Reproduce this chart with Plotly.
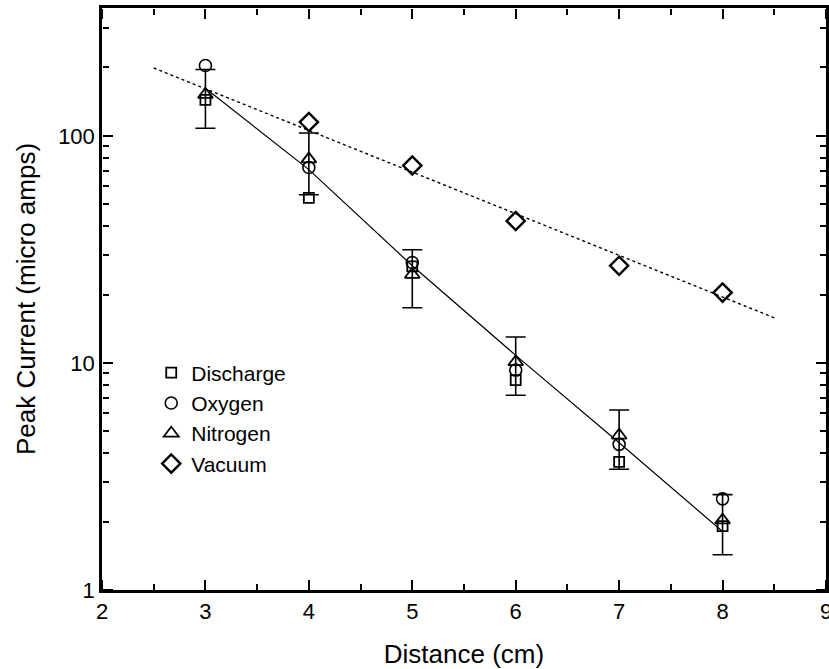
import plotly.graph_objects as go

# Data
distance = [3, 4, 5, 6, 7, 8]
discharge = [144, 53.3, 26.6, 8.4, 3.67, 1.91]
oxygen = [204, 72.5, 27.7, 9.3, 4.38, 2.52]
nitrogen = [152, 79, 24.5, 10.1, 4.8, 2.03]
nitrogen_err = [44, 24, 7, 2.9, 1.4, 0.6]
vac_distance = [4, 5, 6, 7, 8]
vacuum = [115, 74, 42.2, 26.8, 20.4]

# fitted lines
fit_gas_x = [3, 4, 5, 6, 7, 8]
fit_gas_y = [162, 71, 26.8, 10.8, 4.45, 1.81]
fit_vac_x = [2.5, 8.5]
fit_vac_y = [199, 15.8]

X_RANGE = [2, 9]
Y_RANGE_LOG = [0, 2.563]

FONT = "Arial"
black = "#000000"

fig = go.Figure()

fig.add_trace(go.Scatter(x=fit_vac_x, y=fit_vac_y, mode="lines",
                         line=dict(color=black, width=1.4, dash="dot"),
                         showlegend=False, hoverinfo="skip"))
fig.add_trace(go.Scatter(x=fit_gas_x, y=fit_gas_y, mode="lines",
                         line=dict(color=black, width=1.2),
                         showlegend=False, hoverinfo="skip"))
fig.add_trace(go.Scatter(x=distance, y=nitrogen, mode="markers",
                         marker=dict(size=1, color="rgba(0,0,0,0)"),
                         error_y=dict(type="data", array=nitrogen_err, visible=True,
                                      color=black, thickness=1.6, width=10),
                         showlegend=False, hoverinfo="skip"))

fig.add_trace(go.Scatter(x=distance, y=discharge, mode="markers", name="Discharge",
                         marker=dict(symbol="square-open", size=10, color=black,
                                     line=dict(width=1.8))))
fig.add_trace(go.Scatter(x=distance, y=oxygen, mode="markers", name="Oxygen",
                         marker=dict(symbol="circle-open", size=12, color=black,
                                     line=dict(width=1.6))))
fig.add_trace(go.Scatter(x=distance, y=nitrogen, mode="markers", name="Nitrogen",
                         marker=dict(symbol="triangle-up-open", size=13, color=black,
                                     line=dict(width=1.8))))
fig.add_trace(go.Scatter(x=vac_distance, y=vacuum, mode="markers", name="Vacuum",
                         marker=dict(symbol="diamond-open", size=14, color=black,
                                     line=dict(width=2.4))))

# invisible anchor traces for the tick-only axes
fig.add_trace(go.Scatter(x=[5], y=[10], xaxis="x2", yaxis="y2", mode="markers",
                         marker=dict(size=1, color="rgba(0,0,0,0)"),
                         showlegend=False, hoverinfo="skip"))
fig.add_trace(go.Scatter(x=[5], y=[10], xaxis="x3", yaxis="y3", mode="markers",
                         marker=dict(size=1, color="rgba(0,0,0,0)"),
                         showlegend=False, hoverinfo="skip"))

tick_x = dict(range=X_RANGE, dtick=1, tick0=0, ticks="outside", ticklen=10, tickwidth=2,
              tickcolor=black, showticklabels=False, showgrid=False, zeroline=False,
              showline=False, anchor="free", overlaying="x",
              minor=dict(dtick=0.5, tick0=0, ticks="outside", ticklen=6, tickwidth=1.5,
                         tickcolor=black, showgrid=False))
tick_y = dict(type="log", range=Y_RANGE_LOG, dtick=1, ticks="outside", ticklen=10,
              tickwidth=2, tickcolor=black, showticklabels=False, showgrid=False,
              zeroline=False, showline=False, anchor="free", overlaying="y",
              minor=dict(dtick="D1", ticks="outside", ticklen=6, tickwidth=1.5,
                         tickcolor=black, showgrid=False))

fig.update_layout(
    template="none",
    width=829, height=669,
    margin=dict(l=102, r=3, t=8, b=79),
    paper_bgcolor="white", plot_bgcolor="white",
    font=dict(family=FONT, color=black),
    xaxis=dict(range=X_RANGE, dtick=1, tick0=0, ticks="", showline=True, linecolor=black,
               linewidth=2.5, mirror=True, showgrid=False, zeroline=False,
               ticklabeloverflow="allow",
               tickfont=dict(family=FONT, size=22, color=black),
               title=dict(text="Distance (cm)", font=dict(family=FONT, size=26, color=black),
                          standoff=22)),
    yaxis=dict(type="log", range=Y_RANGE_LOG, dtick=1, ticks="", showline=True,
               linecolor=black, linewidth=2.5, mirror=True, showgrid=False, zeroline=False,
               tickfont=dict(family=FONT, size=22, color=black),
               title=dict(text="Peak Current (micro amps)",
                          font=dict(family=FONT, size=26, color=black), standoff=16)),
    xaxis2=dict(side="top", position=0, **tick_x),
    yaxis2=dict(side="right", position=0, **tick_y),
    xaxis3=dict(side="bottom", position=1, **tick_x),
    yaxis3=dict(side="left", position=1, **tick_y),
    legend=dict(x=0.068, y=0.408, xanchor="left", yanchor="top",
                bgcolor="rgba(0,0,0,0)", font=dict(family=FONT, size=21, color=black)),
)

fig.write_html("out.html")
